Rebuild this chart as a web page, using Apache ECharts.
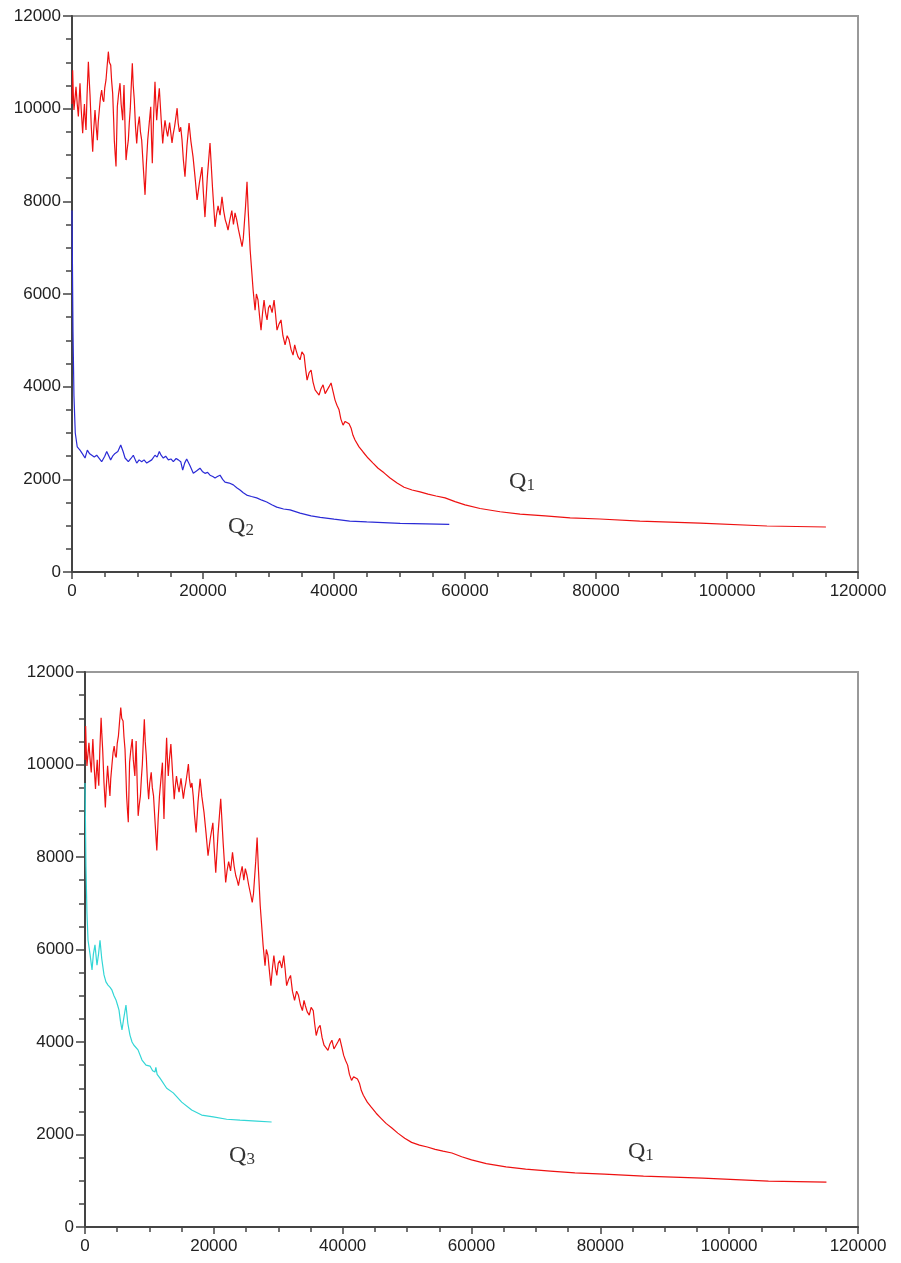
<!DOCTYPE html>
<html><head><meta charset="utf-8">
<script src="https://cdn.jsdelivr.net/npm/echarts@6/dist/echarts.min.js"></script>
<style>html,body{margin:0;padding:0;background:#fff}#c{width:901px;height:1263px}</style>
</head><body><div id="c"></div>
<script>
// Tick values
const xTicks = [0, 20000, 40000, 60000, 80000, 100000, 120000];
const yTicks = [0, 2000, 4000, 6000, 8000, 10000, 12000];

// Q1 (red) — same run shown in both panels
const q1 = [[0,10100],[100,10830],[200,10300],[300,9970],[450,10200],[610,10470],[800,10100],[970,9830],[1100,10200],[1220,10550],[1400,10000],[1630,9470],[1750,9800],[1900,10100],[2000,9800],[2140,9540],[2300,10300],[2500,11010],[2600,10700],[2750,10300],[2950,9600],[3160,9070],[3300,9500],[3510,9970],[3700,9600],[3870,9320],[4000,9700],[4170,9970],[4350,10250],[4530,10400],[4700,10200],[4850,10150],[5000,10450],[5190,10620],[5350,10900],[5550,11230],[5700,11000],[5910,10940],[6050,10600],[6210,10330],[6350,9800],[6460,9320],[6600,9000],[6720,8750],[6820,9400],[6920,10040],[7100,10300],[7330,10550],[7500,10100],[7740,9750],[7850,10200],[7940,10510],[8100,9600],[8250,8890],[8400,9100],[8600,9320],[8750,9700],[8900,10000],[9050,10500],[9210,10980],[9350,10500],[9510,10190],[9700,9600],[9880,9250],[10050,9600],[10280,9830],[10450,9500],[10640,9320],[10900,8700],[11150,8140],[11350,8800],[11560,9320],[11800,9700],[12020,10040],[12150,9300],[12260,8820],[12450,9800],[12670,10580],[12800,10100],[12930,9750],[13100,10100],[13330,10440],[13600,9800],[13850,9250],[14000,9500],[14200,9750],[14400,9550],[14600,9400],[14900,9700],[15270,9260],[15450,9450],[15650,9600],[15850,9800],[16050,10010],[16200,9700],[16400,9500],[16600,9600],[16800,9320],[17000,8900],[17250,8530],[17550,9200],[17870,9690],[18150,9300],[18480,8960],[18800,8500],[19100,8030],[19450,8400],[19850,8740],[20050,8200],[20300,7660],[20650,8500],[21070,9260],[21450,8300],[21840,7450],[22050,7700],[22300,7900],[22600,7700],[22900,8100],[23150,7800],[23400,7600],[23620,7500],[23820,7380],[24100,7600],[24400,7800],[24650,7500],[24890,7750],[25150,7600],[25400,7400],[25700,7200],[25960,7020],[26150,7200],[26300,7500],[26500,7900],[26720,8420],[26900,7800],[27200,6950],[27650,6090],[27950,5650],[28150,6000],[28400,5870],[28650,5500],[28860,5220],[29100,5600],[29320,5870],[29550,5600],[29780,5440],[30000,5700],[30230,5760],[30550,5600],[30850,5870],[31050,5600],[31300,5220],[31600,5350],[31910,5440],[32200,5100],[32530,4900],[32850,5100],[33140,5010],[33450,4800],[33750,4680],[34000,4900],[34200,4790],[34500,4650],[34820,4580],[35100,4750],[35430,4680],[35650,4400],[35890,4140],[36200,4300],[36500,4360],[36800,4100],[37110,3930],[37400,3900],[37720,3820],[38000,3950],[38330,4040],[38650,3850],[38940,3880],[39250,4000],[39550,4080],[39850,3900],[40160,3710],[40450,3600],[40770,3500],[41050,3300],[41380,3170],[41700,3250],[41990,3240],[42300,3200],[42600,3110],[42900,2950],[43210,2850],[43820,2700],[44440,2590],[45200,2460],[45960,2350],[46730,2240],[47640,2140],[48560,2030],[49630,1920],[50700,1830],[51920,1770],[53140,1730],[54360,1680],[55580,1640],[56960,1600],[58480,1520],[60010,1450],[62300,1370],[65360,1300],[68410,1250],[72230,1210],[76050,1170],[80600,1144],[86700,1100],[95900,1057],[106100,993],[115100,971]];

// Q2 (blue, top panel)
const q2 = [[0,7800],[150,5200],[300,3800],[500,3000],[800,2700],[1220,2630],[1600,2550],[1990,2460],[2340,2630],[2700,2550],[3000,2570],[3400,2480],[3770,2520],[4150,2450],[4530,2380],[5000,2500],[5300,2600],[5900,2420],[6200,2500],[6570,2560],[7000,2600],[7440,2740],[7800,2600],[8100,2460],[8600,2380],[9000,2450],[9360,2520],[9880,2350],[10250,2420],[10640,2380],[11000,2420],[11410,2350],[12170,2420],[12670,2520],[13000,2480],[13330,2600],[13600,2520],[13940,2460],[14300,2500],[14710,2420],[15100,2440],[15470,2380],[15900,2450],[16230,2420],[16600,2380],[16900,2200],[17200,2350],[17510,2440],[18000,2300],[18520,2130],[19000,2180],[19540,2240],[19900,2170],[20300,2130],[20700,2150],[21070,2090],[21500,2060],[21840,2030],[22200,2060],[22600,2090],[23000,2000],[23360,1940],[24000,1920],[24630,1880],[25150,1820],[25650,1770],[26150,1710],[26670,1660],[27400,1630],[28200,1600],[29000,1550],[29730,1510],[30500,1450],[31260,1400],[32300,1360],[33290,1340],[34820,1270],[36500,1210],[37900,1180],[40000,1140],[42400,1100],[45000,1080],[47500,1065],[50100,1050],[54000,1040],[57600,1030]];

// Q3 (cyan, bottom panel)
const q3 = [[0,9600],[150,7800],[300,6800],[470,6200],[780,5900],[1090,5560],[1300,5900],[1550,6100],[1860,5660],[2100,5900],[2330,6200],[2600,5800],[2950,5450],[3250,5300],[3570,5230],[3900,5180],[4190,5120],[4500,5000],[4810,4910],[5050,4800],[5280,4690],[5500,4450],[5740,4260],[6000,4500],[6360,4800],[6650,4400],[6980,4150],[7300,4000],[7600,3930],[8230,3830],[8850,3610],[9470,3500],[10090,3480],[10500,3380],[10860,3350],[11000,3450],[11200,3300],[11640,3220],[12680,3000],[13700,2900],[15010,2700],[16560,2530],[18110,2420],[19910,2380],[21990,2330],[24060,2310],[26650,2290],[28970,2270]];

// Curve labels: [panel, name, subscript, x, y]
const curveLabels = [[0,'Q','1',68700,1960],[0,'Q','2',25800,990],[1,'Q','3',24370,1557],[1,'Q','1',86300,1643]];

const chart = echarts.init(document.getElementById('c'), null, {renderer:'canvas'});
const labelFont = {color:'#222', fontSize:17, fontFamily:'Liberation Sans, Arial, sans-serif'};
function xAxis(i){return {type:'value', gridIndex:i, min:xTicks[0], max:xTicks[xTicks.length-1], interval:xTicks[1]-xTicks[0],
  axisLine:{show:true, onZero:false, lineStyle:{color:'#444', width:2}},
  axisTick:{show:true, inside:false, length:7, lineStyle:{color:'#444', width:1.5}},
  minorTick:{show:true, splitNumber:4, length:5, lineStyle:{color:'#444', width:1.5}},
  splitLine:{show:false}, axisLabel:Object.assign({margin:11, formatter:v=>String(v)}, labelFont)};}
function yAxis(i){return {type:'value', gridIndex:i, min:yTicks[0], max:yTicks[yTicks.length-1], interval:yTicks[1]-yTicks[0],
  axisLine:{show:true, onZero:false, lineStyle:{color:'#444', width:2}},
  axisTick:{show:true, inside:false, length:9, lineStyle:{color:'#444', width:1.5}},
  minorTick:{show:true, splitNumber:4, length:6, lineStyle:{color:'#444', width:1.5}},
  splitLine:{show:false}, axisLabel:Object.assign({margin:11, formatter:v=>String(v)}, labelFont)};}
function line(i, data, color){return {type:'line', xAxisIndex:i, yAxisIndex:i, data:data, showSymbol:false, symbol:'none', smooth:false,
  lineStyle:{color:color, width:1.2}, animation:false, silent:true};}
const labelSeries = [0,1].map(p=>({type:'scatter', xAxisIndex:p, yAxisIndex:p, symbolSize:0, silent:true, animation:false,
  data: curveLabels.filter(l=>l[0]===p).map(l=>({value:[l[3],l[4]], q:l[1], s:l[2]})),
  label:{show:true, position:'inside', formatter:d=>'{q|'+d.data.q+'}{s|'+d.data.s+'}',
    rich:{q:{fontFamily:'Liberation Serif, DejaVu Serif, serif', fontSize:24, color:'#000', verticalAlign:'bottom', lineHeight:26},
          s:{fontFamily:'Liberation Serif, DejaVu Serif, serif', fontSize:17, color:'#000', verticalAlign:'bottom', lineHeight:26}}}}));
chart.setOption({
  backgroundColor:'#fff', animation:false,
  grid:[{left:72, top:16, width:786, height:556, show:true, borderColor:'#999', borderWidth:2, backgroundColor:'transparent'},
        {left:85, top:672, width:773, height:555, show:true, borderColor:'#999', borderWidth:2, backgroundColor:'transparent'}],
  xAxis:[xAxis(0), xAxis(1)], yAxis:[yAxis(0), yAxis(1)],
  series:[line(0,q1,'#ee1111'), line(0,q2,'#2b2bd6'), line(1,q1,'#ee1111'), line(1,q3,'#33d6d6')].concat(labelSeries)
});
</script></body></html>
